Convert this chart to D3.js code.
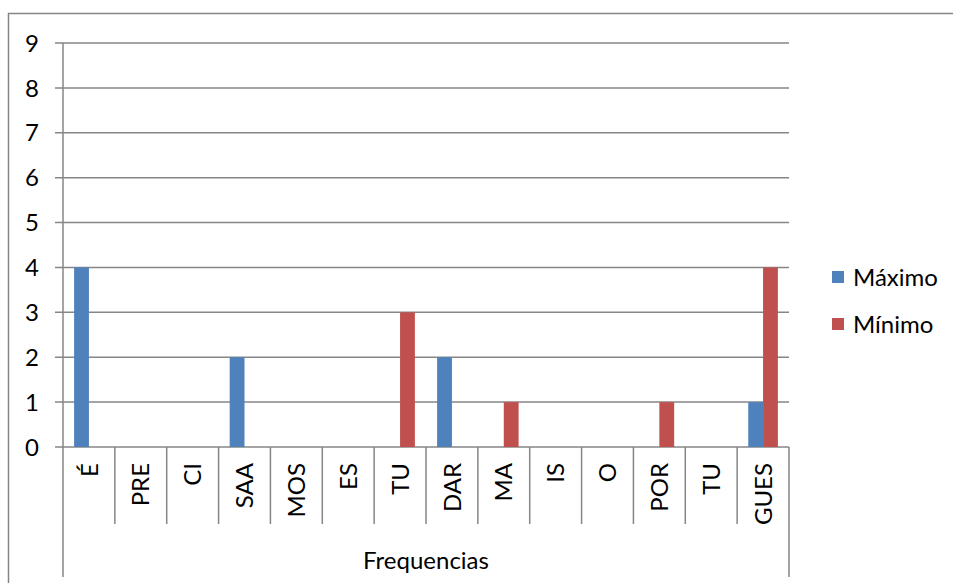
<!DOCTYPE html>
<html>
<head>
<meta charset="utf-8">
<script src="https://cdn.jsdelivr.net/npm/d3@7"></script>
<style>
  html, body { margin: 0; padding: 0; background: #fff; }
  svg { display: block; }
  text { font-family: Lato, "Open Sans", sans-serif; fill: #000; }
</style>
</head>
<body>
<svg id="chart" width="953" height="583"></svg>
<script>
// Syllables along the category axis
const categories = ["É", "PRE", "CI", "SAA", "MOS", "ES", "TU", "DAR", "MA", "IS", "O", "POR", "TU", "GUES"];
const seriesNames = ["Máximo", "Mínimo"];
const maximo = [4, 0, 0, 2, 0, 0, 0, 2, 0, 0, 0, 0, 0, 1];
const minimo = [0, 0, 0, 0, 0, 0, 3, 0, 1, 0, 0, 1, 0, 4];
const yTicks = [0, 1, 2, 3, 4, 5, 6, 7, 8, 9];
const axisTitle = "Frequencias";
const colors = ["#4F81BD", "#C0504D"];

(function () {
  const svg = d3.select("#chart");
  const lineColor = "#868686";
  const fontSize = 24;

  // Outer chart frame
  svg.append("rect")
    .attr("x", 8.5).attr("y", 13.5)
    .attr("width", 960).attr("height", 600)
    .attr("fill", "none").attr("stroke", lineColor).attr("stroke-width", 1.5);

  const plotLeft = 63, plotRight = 789, plotTop = 43, plotBottom = 447;

  const x = d3.scaleBand().domain(d3.range(categories.length)).range([plotLeft, plotRight]).padding(0);
  const xs = d3.scaleBand().domain(seriesNames).range([0, x.bandwidth()]).paddingInner(0).paddingOuter(0.75);
  const y = d3.scaleLinear().domain([0, 9]).range([plotBottom, plotTop]);

  // Horizontal gridlines with short ticks to the left of the axis
  svg.append("g").selectAll("line").data(yTicks).join("line")
    .attr("x1", plotLeft - 8).attr("x2", plotRight)
    .attr("y1", d => y(d)).attr("y2", d => y(d))
    .attr("stroke", lineColor).attr("stroke-width", 1.5);

  // Value axis labels
  svg.append("g").selectAll("text").data(yTicks).join("text")
    .attr("x", 39).attr("y", d => y(d))
    .attr("dy", "0.36em")
    .attr("text-anchor", "end")
    .style("font-size", fontSize + "px")
    .text(d => d);

  // Bars
  const rows = categories.map((c, i) => ({ i, values: [maximo[i], minimo[i]] }));
  const groups = svg.append("g").selectAll("g").data(rows).join("g")
    .attr("transform", d => `translate(${x(d.i)},0)`);
  groups.selectAll("rect")
    .data(d => d.values.map((v, k) => ({ v, k })).filter(e => e.v > 0))
    .join("rect")
    .attr("x", e => xs(seriesNames[e.k]))
    .attr("width", xs.bandwidth())
    .attr("y", e => y(e.v))
    .attr("height", e => y(0) - y(e.v))
    .attr("fill", e => colors[e.k]);

  // Vertical axis line, running down through the category area
  svg.append("line")
    .attr("x1", plotLeft).attr("x2", plotLeft).attr("y1", plotTop).attr("y2", 577)
    .attr("stroke", lineColor).attr("stroke-width", 1.5);

  // Category dividers
  const dividers = d3.range(1, categories.length + 1);
  svg.append("g").selectAll("line").data(dividers).join("line")
    .attr("x1", d => plotLeft + d * x.step()).attr("x2", d => plotLeft + d * x.step())
    .attr("y1", plotBottom)
    .attr("y2", d => d === categories.length ? 577 : 524)
    .attr("stroke", lineColor).attr("stroke-width", 1.5);

  // Rotated category labels
  svg.append("g").selectAll("text").data(categories).join("text")
    .attr("transform", (d, i) => `translate(${x(i) + x.bandwidth() / 2},463) rotate(-90)`)
    .attr("text-anchor", "end")
    .attr("dy", "0.36em")
    .style("font-size", fontSize + "px")
    .text(d => d);

  // Group title under the categories
  svg.append("text")
    .attr("x", (plotLeft + plotRight) / 2).attr("y", 569)
    .attr("text-anchor", "middle")
    .style("font-size", fontSize + "px")
    .text(axisTitle);

  // Legend
  const legend = svg.append("g").selectAll("g").data(seriesNames).join("g")
    .attr("transform", (d, i) => `translate(832,${271 + i * 47})`);
  legend.append("rect")
    .attr("width", 12).attr("height", 12)
    .attr("fill", (d, i) => colors[i]);
  legend.append("text")
    .attr("x", 21).attr("y", 15)
    .style("font-size", fontSize + "px")
    .text(d => d);
})();
</script>
</body>
</html>
